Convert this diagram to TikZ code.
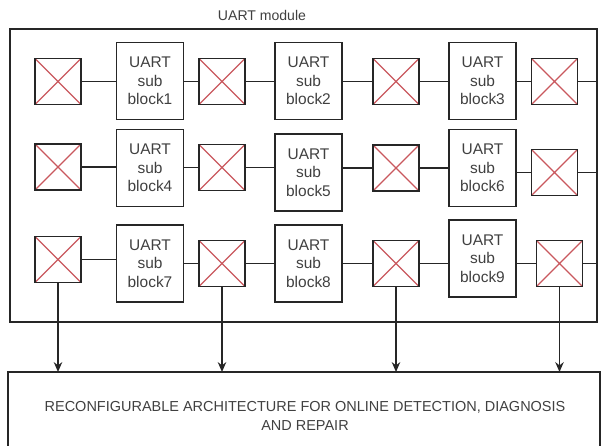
\documentclass[tikz,border=0pt]{standalone}
\usepackage{fontspec}
\setmainfont{Liberation Sans}
\usetikzlibrary{arrows.meta}
\definecolor{UMLine}{HTML}{262626}
\definecolor{UMCross}{HTML}{C9585E}
\definecolor{UMText}{HTML}{404040}
\tikzset{
  swbox/.style={draw=UMLine,line width=1.4pt,minimum width=1.15cm,minimum height=1.15cm,inner sep=0pt,
    path picture={\draw[UMCross,line width=1pt]
      (path picture bounding box.south west) -- (path picture bounding box.north east)
      (path picture bounding box.north west) -- (path picture bounding box.south east);}},
  subblk/.style={draw=UMLine,line width=1.4pt,minimum width=1.675cm,minimum height=1.925cm,
    inner sep=0pt,align=center,text=UMText,font=\fontsize{11}{13}\selectfont},
  link/.style={draw=UMLine,line width=1.4pt},
  tolink/.style={link,-{Stealth[length=7pt,width=6pt]}},
}

\begin{document}
\begin{tikzpicture}[x=0.025cm,y=-0.025cm]
\path[use as bounding box] (0,0) rectangle (601,446);
% module frame
\draw[UMLine,line width=1.5pt] (10,29) rectangle (597,322);
\coordinate (modR) at (597,29);
\node[text=UMText,font=\fontsize{10}{12}\selectfont] (modlbl) at (262,15) {UART module};
% row 1
\node[swbox] (x1) at (58,81.5) {};
\node[subblk] (b1) at (150,81) {UART\\sub\\block1};
\node[swbox] (x2) at (222,81.5) {};
\node[subblk] (b2) at (308.5,81) {UART\\sub\\block2};
\node[swbox] (x3) at (396,81.5) {};
\node[subblk] (b3) at (482.5,81) {UART\\sub\\block3};
\node[swbox] (x4) at (554.5,81.5) {};
% row 2
\node[swbox] (x5) at (58,167) {};
\node[subblk] (b4) at (150,168) {UART\\sub\\block4};
\node[swbox] (x6) at (222,167.5) {};
\node[subblk] (b5) at (308.5,172.5) {UART\\sub\\block5};
\node[swbox] (x7) at (396,168) {};
\node[subblk] (b6) at (482.5,168) {UART\\sub\\block6};
\node[swbox] (x8) at (554.5,172.5) {};
% row 3
\node[swbox] (x9) at (58,259.5) {};
\node[subblk] (b7) at (150,263.5) {UART\\sub\\block7};
\node[swbox] (x10) at (222,263.5) {};
\node[subblk] (b8) at (308.5,263.5) {UART\\sub\\block8};
\node[swbox] (x11) at (396,263.5) {};
\node[subblk] (b9) at (482.5,258.5) {UART\\sub\\block9};
\node[swbox] (x12) at (559.5,263.5) {};
% links
\draw[link] (x1.east) -- (x1.east -| b1.west);
\draw[link] (b1.east |- x2.west) -- (x2.west);
\draw[link] (x2.east) -- (x2.east -| b2.west);
\draw[link] (b2.east |- x3.west) -- (x3.west);
\draw[link] (x3.east) -- (x3.east -| b3.west);
\draw[link] (b3.east |- x4.west) -- (x4.west);
\draw[link] (x4.east) -- (x4.east -| modR);
\draw[link] (x5.east) -- (x5.east -| b4.west);
\draw[link] (b4.east |- x6.west) -- (x6.west);
\draw[link] (x6.east) -- (x6.east -| b5.west);
\draw[link] (b5.east |- x7.west) -- (x7.west);
\draw[link] (x7.east) -- (x7.east -| b6.west);
\draw[link] (b6.east |- x8.west) -- (x8.west);
\draw[link] (x8.east) -- (x8.east -| modR);
\draw[link] (x9.east) -- (x9.east -| b7.west);
\draw[link] (b7.east |- x10.west) -- (x10.west);
\draw[link] (x10.east) -- (x10.east -| b8.west);
\draw[link] (b8.east |- x11.west) -- (x11.west);
\draw[link] (x11.east) -- (x11.east -| b9.west);
\draw[link] (b9.east |- x12.west) -- (x12.west);
\draw[link] (x12.east) -- (x12.east -| modR);
% reconfigurable architecture
\draw[UMLine,line width=1.4pt] (8,460) -- (8,372) coordinate (archL) -- (600,372) -- (600,460);
\node[anchor=north,align=center,text=UMText,font=\fontsize{10.3}{13.5}\selectfont] (arch) at (305,396)
  {RECONFIGURABLE ARCHITECTURE FOR ONLINE DETECTION, DIAGNOSIS\\AND REPAIR};
\foreach \s in {x9,x10,x11,x12}
  \draw[tolink] (\s.south) -- (\s.south |- archL);
\end{tikzpicture}
\end{document}
